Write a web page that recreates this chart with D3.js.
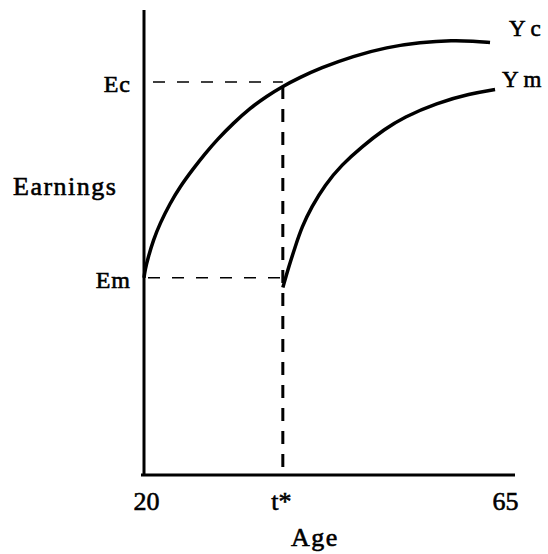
<!DOCTYPE html>
<html>
<head>
<meta charset="utf-8">
<script src="https://cdn.jsdelivr.net/npm/d3@7"></script>
<style>
  body { margin: 0; background: #fff; }
  svg text { font-family: "Liberation Serif", serif; fill: #000; stroke: #000; stroke-width: 0.6px; }
</style>
</head>
<body>
<div id="chart"></div>
<script>
// age / earnings readings for the two profiles
var ycAge = [20, 20.13, 20.54, 21.17, 22.0, 23.26, 24.51, 26.18, 27.65, 29.15, 31.16, 33.29, 35.42, 37.3, 39.55, 42.06, 46.23, 50.42, 54.6, 58.77, 61.28, 63.37];
var ycEarn = [42.4, 44.1, 46.9, 50.5, 54.1, 58.4, 62.0, 65.9, 69.1, 72.1, 75.6, 78.9, 81.5, 83.5, 85.5, 87.5, 90.1, 92.0, 93.05, 93.5, 93.3, 93.0];
var ymAge = [37.4, 38.15, 38.95, 39.8, 41.02, 42.68, 44.78, 47.29, 50.18, 52.5, 56.69, 60.86, 64.0];
var ymEarn = [40.3, 44.8, 49.1, 53.4, 57.7, 62.4, 66.7, 70.6, 74.4, 76.9, 80.0, 82.0, 82.9];

var tStar = 37.4;
var ecValue = 84.5;
var emValue = 42.4;

var xTickValues = [20, tStar, 65];
var xTickLabels = ["20", "t*", "65"];
var yTickValues = [emValue, ecValue];
var yTickLabels = ["Em", "Ec"];

var svgWidth = 548, svgHeight = 554;

var svg = d3.select("#chart").append("svg")
  .attr("width", svgWidth)
  .attr("height", svgHeight);

// scales
var xScale = d3.scaleLinear().domain([20, 66.5]).range([144, 515]);
var yScale = d3.scaleLinear().domain([0, 100]).range([475, 10]);

// axes
var xAxis = svg.append("g")
  .attr("transform", "translate(0," + yScale(0) + ")")
  .call(d3.axisBottom(xScale).tickValues(xTickValues).tickSize(0)
    .tickFormat((d, i) => xTickLabels[i]));
xAxis.attr("font-family", null).attr("font-size", null);
xAxis.select(".domain").attr("stroke", "#000").attr("stroke-width", 3)
  .attr("d", "M" + (xScale(20) - 3) + ",0H" + xScale(66.5));
xAxis.selectAll("text")
  .attr("font-size", 26)
  .attr("dy", 0)
  .attr("y", 35)
  .attr("dx", (d, i) => i == 1 ? -2 : 2);

var yAxis = svg.append("g")
  .attr("transform", "translate(" + xScale(20) + ",0)")
  .call(d3.axisLeft(yScale).tickValues(yTickValues).tickSize(0)
    .tickFormat((d, i) => yTickLabels[i]));
yAxis.attr("font-family", null).attr("font-size", null);
yAxis.select(".domain").attr("stroke", "#000").attr("stroke-width", 3)
  .attr("d", "M0," + yScale(0) + "V" + yScale(100));
yAxis.selectAll("text")
  .attr("font-size", 24)
  .attr("x", -13)
  .attr("dy", "0.4em")
  .attr("letter-spacing", 1);

// guide lines
svg.append("line")
  .attr("x1", xScale(20) + 9).attr("x2", xScale(tStar))
  .attr("y1", yScale(ecValue)).attr("y2", yScale(ecValue))
  .attr("stroke", "#000").attr("stroke-width", 1.5).attr("stroke-dasharray", "12,12");
svg.append("line")
  .attr("x1", xScale(20) + 4).attr("x2", xScale(tStar))
  .attr("y1", yScale(emValue)).attr("y2", yScale(emValue))
  .attr("stroke", "#000").attr("stroke-width", 1.5).attr("stroke-dasharray", "12,12");
svg.append("line")
  .attr("x1", xScale(tStar)).attr("x2", xScale(tStar))
  .attr("y1", yScale(ecValue) + 4).attr("y2", yScale(0))
  .attr("stroke", "#000").attr("stroke-width", 3).attr("stroke-dasharray", "13,10");

// earnings curves
var line = d3.line()
  .x(d => xScale(d[0]))
  .y(d => yScale(d[1]))
  .curve(d3.curveBasis);

var ycData = ycAge.map((a, i) => [a, ycEarn[i]]);
var ymData = ymAge.map((a, i) => [a, ymEarn[i]]);

svg.append("path").datum(ycData)
  .attr("d", line).attr("fill", "none").attr("stroke", "#000").attr("stroke-width", 3.5);
svg.append("path").datum(ymData)
  .attr("d", line).attr("fill", "none").attr("stroke", "#000").attr("stroke-width", 3.5);

// labels
svg.append("text").attr("x", 509).attr("y", 36)
  .attr("font-size", 23).attr("letter-spacing", 5).text("Yc");
svg.append("text").attr("x", 502).attr("y", 87)
  .attr("font-size", 23).attr("letter-spacing", 5).text("Ym");
svg.append("text").attr("x", 13).attr("y", 195)
  .attr("font-size", 26).attr("letter-spacing", 1.5).text("Earnings");
svg.append("text").attr("x", 315).attr("y", 546)
  .attr("font-size", 26).attr("letter-spacing", 1.5).attr("text-anchor", "middle").text("Age");
</script>
</body>
</html>
